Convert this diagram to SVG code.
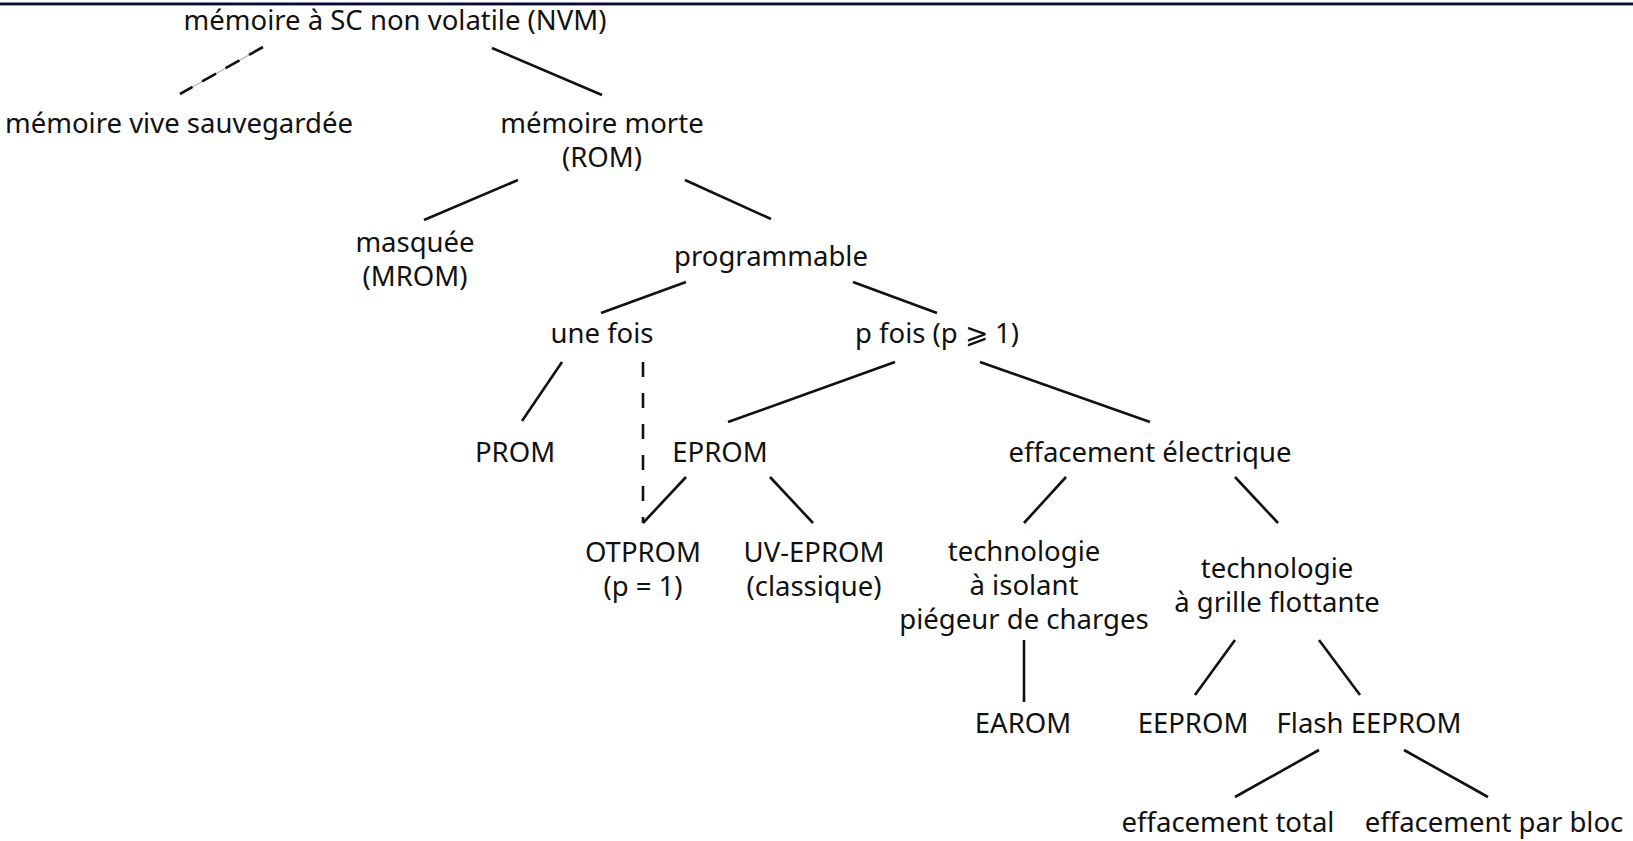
<svg xmlns="http://www.w3.org/2000/svg" width="1633" height="841" viewBox="0 0 1633 841">
<style>
text{font-family:"Noto Sans","Open Sans",sans-serif;font-size:27.5px;fill:#111;text-anchor:middle}
.e{stroke:#111;stroke-width:2.6;fill:none;stroke-linecap:butt}
.d{stroke-dasharray:15 16}
.thin{stroke:#999;stroke-width:1;fill:none}
</style>
<rect width="1633" height="841" fill="#fff"/>
<rect x="0" y="2.5" width="1633" height="2.5" fill="#0a0a38"/>
<rect x="0" y="5" width="1633" height="1" fill="#9a9ac0"/>
<g id="connectors">
<line class="thin" x1="263" y1="47" x2="180" y2="94"/>
<line class="e" x1="263" y1="47" x2="180" y2="94" stroke-dasharray="16 11"/>
<line class="e" x1="492" y1="48" x2="602" y2="95"/>
<line class="e" x1="518" y1="180" x2="424" y2="220"/>
<line class="e" x1="685" y1="180" x2="771" y2="219"/>
<line class="e" x1="686" y1="282" x2="601" y2="313"/>
<line class="e" x1="853" y1="282" x2="937" y2="313"/>
<line class="e" x1="562" y1="362" x2="522" y2="421"/>
<line class="e d" x1="643" y1="362" x2="643" y2="523"/>
<line class="e" x1="895" y1="362" x2="728" y2="422"/>
<line class="e" x1="980" y1="362" x2="1150" y2="422"/>
<line class="e" x1="686" y1="477" x2="643" y2="523"/>
<line class="e" x1="770" y1="477" x2="813" y2="523"/>
<line class="e" x1="1066" y1="477" x2="1024" y2="523"/>
<line class="e" x1="1235" y1="477" x2="1278" y2="523"/>
<line class="e" x1="1024" y1="640" x2="1024" y2="702"/>
<line class="e" x1="1235" y1="640" x2="1195" y2="695"/>
<line class="e" x1="1319" y1="640" x2="1360" y2="695"/>
<line class="e" x1="1319" y1="750" x2="1235" y2="797"/>
<line class="e" x1="1404" y1="750" x2="1488" y2="797"/>
</g>
<g id="nvm"><text x="395" y="30">mémoire à SC non volatile (NVM)</text></g>
<g id="vive"><text x="179" y="133">mémoire vive sauvegardée</text></g>
<g id="rom"><text x="602" y="133">mémoire morte</text><text x="602" y="167">(ROM)</text></g>
<g id="mrom"><text x="415" y="252">masquée</text><text x="415" y="286">(MROM)</text></g>
<g id="prog"><text x="771" y="266">programmable</text></g>
<g id="unefois"><text x="602" y="343">une fois</text></g>
<g id="pfois"><text x="937" y="343">p fois (p ⩾ 1)</text></g>
<g id="prom"><text x="515" y="462">PROM</text></g>
<g id="eprom"><text x="720" y="462">EPROM</text></g>
<g id="effel"><text x="1150" y="462">effacement électrique</text></g>
<g id="otprom"><text x="643" y="562">OTPROM</text><text x="643" y="596">(p = 1)</text></g>
<g id="uveprom"><text x="814" y="562">UV-EPROM</text><text x="814" y="596">(classique)</text></g>
<g id="isolant"><text x="1024" y="561">technologie</text><text x="1024" y="595">à isolant</text><text x="1024" y="629">piégeur de charges</text></g>
<g id="grille"><text x="1277" y="578">technologie</text><text x="1277" y="612">à grille flottante</text></g>
<g id="earom"><text x="1023" y="733">EAROM</text></g>
<g id="eeprom"><text x="1193" y="733">EEPROM</text></g>
<g id="flash"><text x="1369" y="733">Flash EEPROM</text></g>
<g id="total"><text x="1228" y="832">effacement total</text></g>
<g id="bloc"><text x="1494" y="832">effacement par bloc</text></g>
</svg>
